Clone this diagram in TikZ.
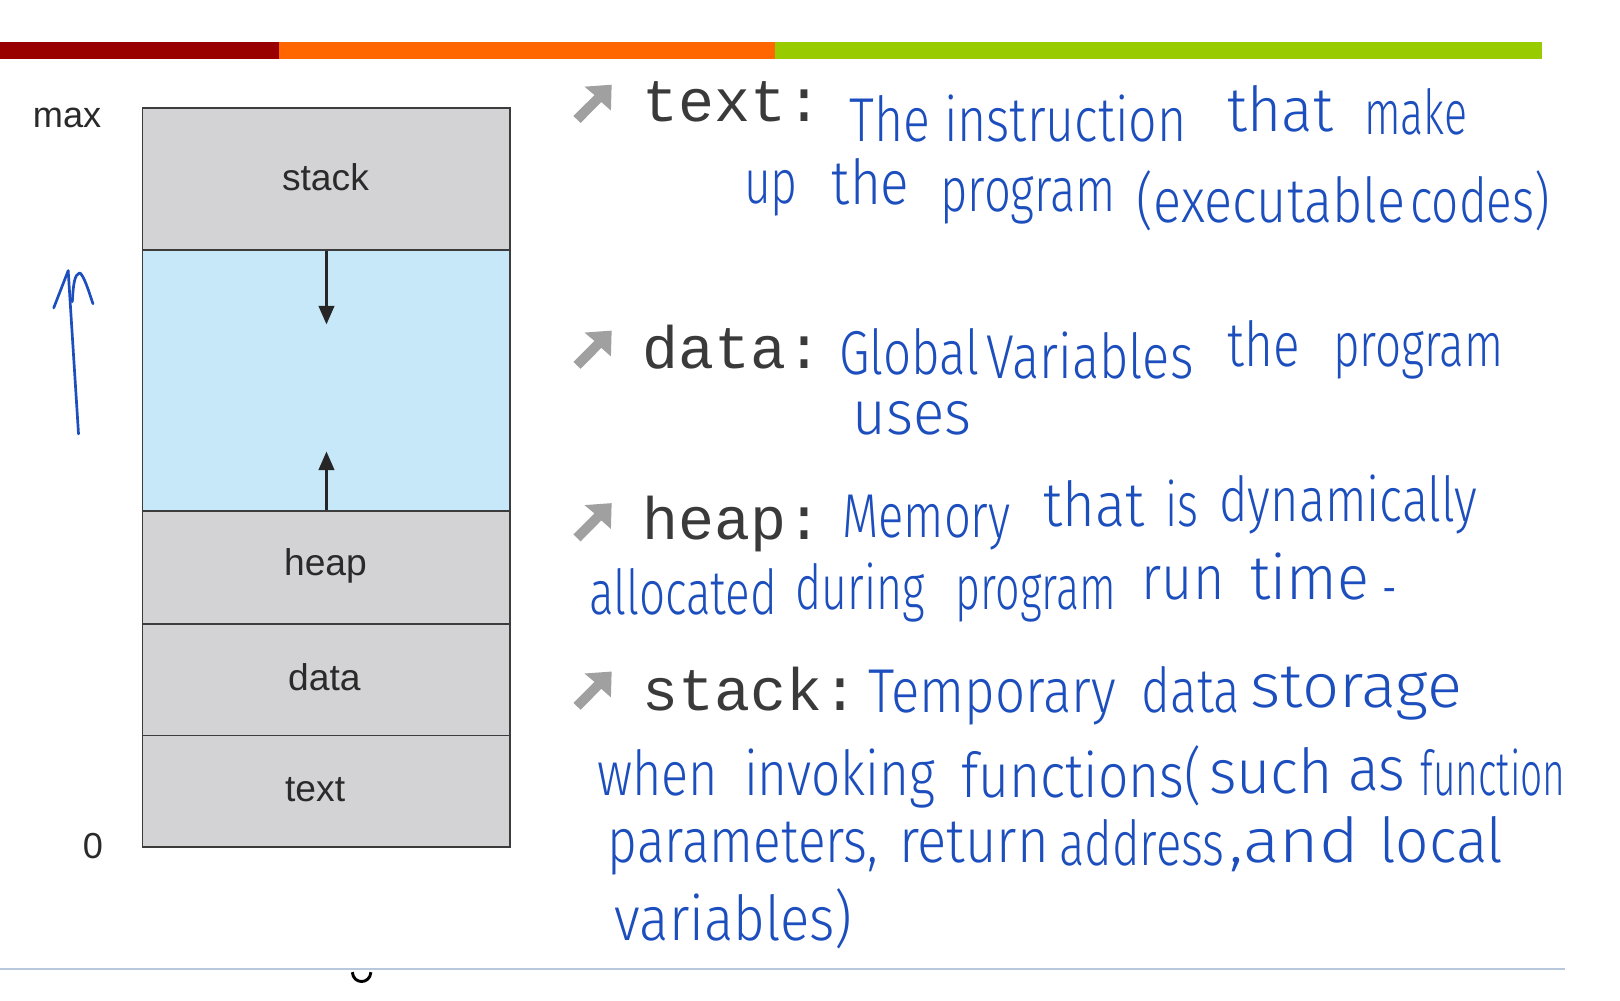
\documentclass[tikz,border=0pt]{standalone}
\usepackage{fontspec}
\usepackage{graphicx}
\setmainfont{Liberation Sans}
\newfontfamily\monofont{Liberation Mono}
\newfontfamily\handfont{Fira Sans}[UprightFont={* Light}]
\usetikzlibrary{arrows.meta}

\definecolor{barred}{HTML}{990000}
\definecolor{barorange}{HTML}{FF6600}
\definecolor{bargreen}{HTML}{99CC00}
\definecolor{cellgray}{HTML}{D3D3D5}
\definecolor{freeblue}{HTML}{C6E8F8}
\definecolor{edgegray}{HTML}{3C3C3C}
\definecolor{ink}{RGB}{28,78,190}
\definecolor{bulletgray}{HTML}{A0A0A0}
\definecolor{rulecolor}{HTML}{B9C7DD}
\definecolor{labelgray}{HTML}{2A2A2A}
\definecolor{termgray}{HTML}{3A3A3A}

% handwritten word group squeezed to a given width
\newcommand\hw[2]{\resizebox{#1pt}{\height}{#2}}

\tikzset{
  cell/.style={draw=edgegray, line width=1.8pt, fill=cellgray, inner sep=0pt,
    minimum width=356pt, anchor=north west},
  celltext/.style={font=\fontsize{36}{36}\selectfont, text=labelgray, inner sep=0pt},
  axistext/.style={font=\fontsize{35}{35}\selectfont, text=labelgray, inner sep=0pt},
  growth/.style={line width=2.6pt, draw=black!85, -{Triangle[length=18pt,width=15pt]}},
  term/.style={font=\monofont\fontsize{58}{58}\selectfont, text=termgray,
    inner sep=0pt, anchor=base west},
  hand/.style={font=\handfont\fontsize{60}{60}\selectfont, text=ink,
    inner sep=0pt, anchor=base west},
  pen/.style={draw=ink, line width=2.6pt, line cap=round, line join=round},
  bulletmark/.style={fill=bulletgray}
}

% up-right bullet arrow, top-left corner at (#1,#2)
\newcommand\bulletarrow[2]{%
  \fill[bulletmark, shift={(#1,#2)}]
    (10.7,1.9) -- (37,0) -- (36.3,25) -- (27,16.7) -- (7,37) -- (0,30.3) -- (20.4,10) -- cycle;}

\begin{document}
\begin{tikzpicture}[x=1pt,y=-1pt]
\path[use as bounding box, fill=white] (0,0) rectangle (1568,968);

% coloured title bar
\fill[barred]    (0,41)   rectangle (270,57);
\fill[barorange] (270,41) rectangle (750,57);
\fill[bargreen]  (750,41) rectangle (1492,57);

% memory layout column
\node[cell, minimum height=137pt] (rstack) at (137,104) {};
\node[cell, minimum height=253pt, fill=freeblue] (rfree) at (137,241) {};
\node[cell, minimum height=109pt] (rheap) at (137,494) {};
\node[cell, minimum height=108pt] (rdata) at (137,603) {};
\node[cell, minimum height=108pt] (rtext) at (137,711) {};

\node[celltext] (lstack) at (315,172) {stack};
\node[celltext] (lheap)  at (315,548) {heap};
\node[celltext] (ldata)  at (314,655) {data};
\node[celltext] (ltext)  at (305,764) {text};

\node[axistext] (lmax)  at (65,114) {max};
\node[axistext] (lzero) at (90,819) {0};

% growth directions of stack and heap
\coordinate (stacktip) at (316,314);
\coordinate (heaptip)  at (316,437);
\draw[growth] (rstack.south -| stacktip) -- (stacktip);
\draw[growth] (rheap.north -| heaptip) -- (heaptip);

% pen arrow beside the column
\draw[pen] (76,420) -- (66,262);
\draw[pen] (52,298) -- (66,262);
\draw[pen] (70,292) .. controls (71,275) and (72,266) .. (77,264) .. controls (81,266) and (86,282) .. (90,294);

% bottom rule and cut glyph
\draw[rulecolor, line width=1.4pt] (0,938) -- (1515,938);
\draw[black, line width=2.8pt] (341,941) .. controls (342,953) and (358,953) .. (359,941);

% bullets and section terms
\bulletarrow{555}{82}
\bulletarrow{555}{320}
\bulletarrow{555}{487}
\bulletarrow{555}{650}
\node[term] (ttext)  at (622,118) {text:};
\node[term] (tdata)  at (622,357) {data:};
\node[term] (theap)  at (622,522) {heap:};
\node[term] (tstack) at (622,688) {stack:};

% handwritten notes: text
\node[hand] (a1) at (822,137)  {\hw{326}{The instruction}};
\node[hand] (a2) at (1188,127) {\hw{102}{that}};
\node[hand] (a3) at (1320,130) {\hw{100}{make}};
\node[hand] (a4) at (720,197)  {\hw{52}{up}};
\node[hand] (a5) at (805,198)  {\hw{75}{the}};
\node[hand] (a6) at (910,205)  {\hw{170}{program}};
\node[hand] (a7) at (1100,215) {\hw{260}{(executable}};
\node[hand] (a8) at (1365,215) {\hw{135}{codes)}};

% handwritten notes: data
\node[hand] (b1) at (812,362)  {\hw{136}{Global}};
\node[hand] (b2) at (955,366)  {\hw{200}{Variables}};
\node[hand] (b3) at (1188,355) {\hw{70}{the}};
\node[hand] (b4) at (1290,355) {\hw{165}{program}};
\node[hand] (b5) at (825,421)  {\hw{115}{uses}};

% handwritten notes: heap
\node[hand] (c1) at (815,520)  {\hw{163}{Memory}};
\node[hand] (c2) at (1010,510) {\hw{98}{that}};
\node[hand] (c3) at (1128,510) {\hw{32}{is}};
\node[hand] (c4) at (1180,505) {\hw{250}{dynamically}};
\node[hand] (c5) at (570,595)  {\hw{182}{allocated}};
\node[hand] (c6) at (770,590)  {\hw{125}{during}};
\node[hand] (c7) at (925,590)  {\hw{155}{program}};
\node[hand] (c8) at (1105,580) {\hw{80}{run}};
\node[hand] (c9) at (1210,580) {\hw{115}{time}};
\node[hand] (c10) at (1338,590) {\hw{14}{-}};

% handwritten notes: stack
\node[hand] (d1) at (840,690)  {\hw{240}{Temporary}};
\node[hand] (d2) at (1105,690) {\hw{95}{data}};
\node[hand] (d3) at (1210,685) {\hw{205}{storage}};
\node[hand] (d4) at (578,770)  {\hw{117}{when}};
\node[hand] (d5) at (720,770)  {\hw{185}{invoking}};
\node[hand] (d6) at (930,772)  {\hw{233}{functions(}};
\node[hand] (d7) at (1170,768) {\hw{120}{such}};
\node[hand] (d8) at (1305,765) {\hw{55}{as}};
\node[hand] (d9) at (1375,770) {\hw{140}{function}};
\node[hand] (d10) at (588,835)  {\hw{262}{parameters,}};
\node[hand] (d11) at (870,835)  {\hw{145}{return}};
\node[hand] (d12) at (1025,838) {\hw{160}{address}};
\node[hand] (d13) at (1190,835) {\hw{125}{,and}};
\node[hand] (d14) at (1335,835) {\hw{120}{local}};
\node[hand] (d15) at (595,910)  {\hw{230}{variables)}};
\end{tikzpicture}
\end{document}
